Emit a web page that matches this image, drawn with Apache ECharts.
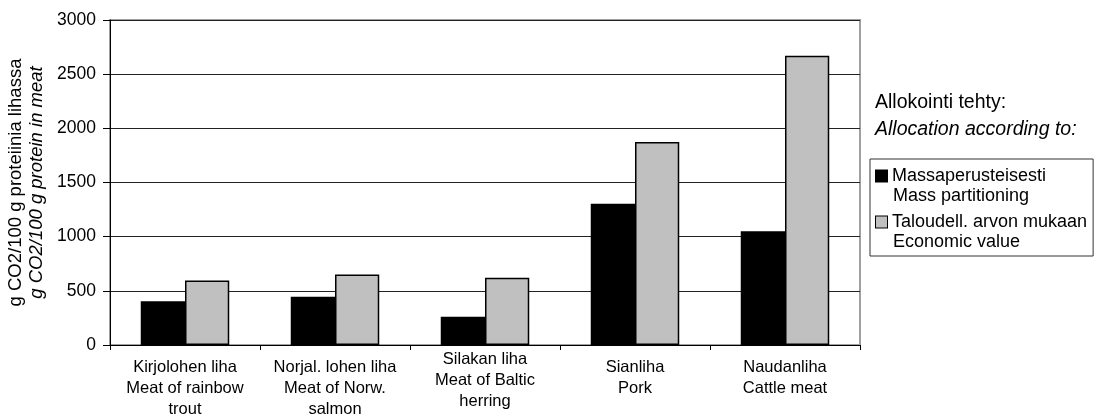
<!DOCTYPE html>
<html>
<head>
<meta charset="utf-8">
<script src="https://cdn.jsdelivr.net/npm/echarts@6/dist/echarts.min.js"></script>
<style>
  html, body { margin: 0; padding: 0; background: #fff; }
  #chart { width: 1103px; height: 415px; }
</style>
</head>
<body>
<div id="chart"></div>
<script>
// Meat categories (Finnish / English)
const categories = [
  'Kirjolohen liha\nMeat of rainbow\ntrout',
  'Norjal. lohen liha\nMeat of Norw.\nsalmon',
  'Silakan liha\nMeat of Baltic\nherring',
  'Sianliha\nPork',
  'Naudanliha\nCattle meat'
];

// g CO2 per 100 g protein
const massPartitioning = [405, 445, 260, 1305, 1050];
const economicValue = [595, 650, 620, 1875, 2670];

const seriesNames = ['Massaperusteisesti', 'Taloudell. arvon mukaan'];
const seriesSubNames = ['Mass partitioning', 'Economic value'];

const yTicks = [0, 500, 1000, 1500, 2000, 2500, 3000];

const FONT = '"Liberation Sans", Arial, sans-serif';

// The herring label sits a little higher than the others
const raisedLabel = 2;
const xData = categories.map((c, i) => ({
  value: c,
  textStyle: { padding: [i === raisedLabel ? 0 : 8, 0, 0, 0] }
}));

const chart = echarts.init(document.getElementById('chart'), null, { renderer: 'canvas' });

const option = {
  backgroundColor: '#fff',
  animation: false,
  textStyle: { fontFamily: FONT, color: '#000' },
  title: {
    left: 875,
    top: 89,
    padding: 0,
    text: '{a|Allokointi tehty:}\n{b|Allocation according to:}',
    textStyle: {
      fontWeight: 'normal',
      rich: {
        a: { fontFamily: FONT, fontSize: 19.5, fontWeight: 'normal', color: '#000', lineHeight: 27 },
        b: { fontFamily: FONT, fontSize: 19.5, fontWeight: 'normal', color: '#000', fontStyle: 'italic', lineHeight: 27 }
      }
    }
  },
  legend: {
    orient: 'vertical',
    left: 870,
    top: 159,
    padding: [8, 6, 5, 0],
    itemGap: 8,
    itemWidth: 1,
    itemHeight: 1,
    itemStyle: { opacity: 0, borderWidth: 0 },
    borderColor: '#333',
    borderWidth: 1,
    data: seriesNames,
    formatter: function (name) {
      const i = seriesNames.indexOf(name);
      const sq = i === 0 ? 's0' : 's1';
      return '{' + sq + '|}{t|' + name + '}\n{u|' + seriesSubNames[i] + '}';
    },
    textStyle: {
      rich: {
        s0: { width: 11, height: 11, backgroundColor: '#000', borderColor: '#000', borderWidth: 1 },
        s1: { width: 11, height: 11, backgroundColor: '#c0c0c0', borderColor: '#000', borderWidth: 1 },
        t: { fontFamily: FONT, fontSize: 18, color: '#000', lineHeight: 20, padding: [0, 0, 0, 5] },
        u: { fontFamily: FONT, fontSize: 18, color: '#000', lineHeight: 20, padding: [0, 0, 0, 17] }
      }
    }
  },
  grid: {
    left: 110,
    right: 243,
    top: 20,
    bottom: 70,
    containLabel: false,
    outerBoundsMode: 'none',
    show: true,
    borderColor: '#a0a0a0',
    borderWidth: 2,
    backgroundColor: '#fff'
  },
  xAxis: {
    type: 'category',
    data: xData,
    axisLine: { lineStyle: { color: '#000', width: 1 } },
    axisTick: { show: true, length: 5, lineStyle: { color: '#000' } },
    axisLabel: {
      margin: 4,
      interval: 0,
      fontFamily: FONT,
      fontSize: 16.5,
      lineHeight: 21,
      color: '#000',
      align: 'center'
    }
  },
  yAxis: {
    type: 'value',
    min: yTicks[0],
    max: yTicks[yTicks.length - 1],
    interval: 500,
    name: '{a|g CO2/100 g proteiinia lihassa}\n{b|g CO2/100 g protein in meat}',
    nameLocation: 'middle',
    nameGap: 58,
    nameTextStyle: {
      rich: {
        a: { fontFamily: FONT, fontSize: 18.5, color: '#000', lineHeight: 21 },
        b: { fontFamily: FONT, fontSize: 18.5, color: '#000', fontStyle: 'italic', lineHeight: 21 }
      }
    },
    axisLine: { show: true, lineStyle: { color: '#000', width: 1 } },
    axisTick: { show: true, length: 7, lineStyle: { color: '#000' } },
    axisLabel: {
      margin: 14,
      fontFamily: FONT,
      fontSize: 17.5,
      color: '#000',
      formatter: function (v) { return String(v); }
    },
    splitLine: { show: true, lineStyle: { color: '#222', width: 1 } }
  },
  series: [
    {
      name: seriesNames[0],
      type: 'bar',
      data: massPartitioning,
      barGap: '0%',
      barCategoryGap: '41%',
      itemStyle: { color: '#000', borderColor: '#000', borderWidth: 1.5 }
    },
    {
      name: seriesNames[1],
      type: 'bar',
      data: economicValue,
      barGap: '0%',
      barCategoryGap: '41%',
      itemStyle: { color: '#c0c0c0', borderColor: '#000', borderWidth: 1.5 }
    }
  ]
};

chart.setOption(option);
</script>
</body>
</html>
